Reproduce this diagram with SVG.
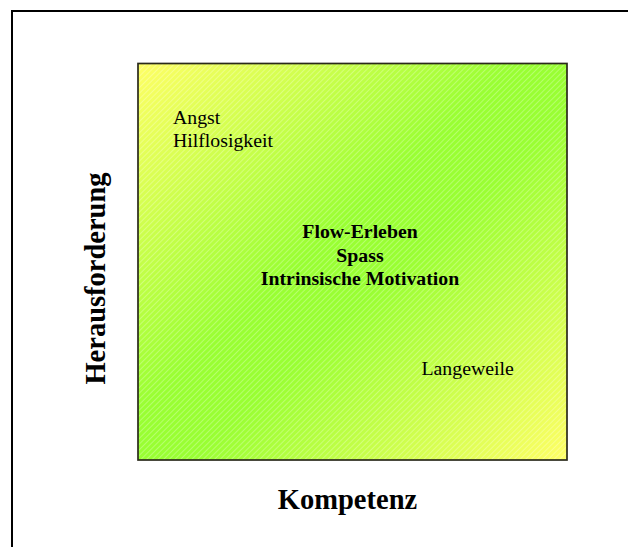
<svg xmlns="http://www.w3.org/2000/svg" width="628" height="547" viewBox="0 0 628 547">
  <style>
    .lbl { font-family: "Liberation Serif", "Times New Roman", serif; fill: #000; }
    .reg { font-size: 19.8px; }
    .bold { font-size: 19.8px; font-weight: bold; }
    .axis { font-size: 28.5px; font-weight: bold; }
  </style>
  <defs>
    <linearGradient id="fieldGrad" x1="0" y1="0" x2="1" y2="1">
      <stop offset="0" stop-color="#ffff66"/>
      <stop offset="0.44" stop-color="#99ff33"/>
      <stop offset="0.56" stop-color="#99ff33"/>
      <stop offset="1" stop-color="#ffff66"/>
    </linearGradient>
    <pattern id="hatch" width="4" height="4" patternUnits="userSpaceOnUse" patternTransform="rotate(-45)">
      <rect x="0" y="0" width="4" height="1" fill="#ffffff" fill-opacity="0.28"/>
    </pattern>
  </defs>

  <rect width="628" height="547" fill="#ffffff"/>

  <!-- outer frame (continues past the right and bottom edges) -->
  <rect x="12" y="11" width="700" height="700" fill="none" stroke="#000" stroke-width="2"/>

  <!-- field -->
  <g id="field">
    <rect x="138" y="63.5" width="429" height="396.5" fill="url(#fieldGrad)"/>
    <rect x="138" y="63.5" width="429" height="396.5" fill="url(#hatch)"/>
    <rect x="138" y="63.5" width="429" height="396.5" fill="none" stroke="#2a2a1a" stroke-width="1.7"/>
  </g>

  <g id="angst">
    <text class="lbl reg" x="173" y="124">Angst</text>
    <text class="lbl reg" x="173" y="147">Hilflosigkeit</text>
  </g>

  <g id="flow">
    <text class="lbl bold" x="360" y="238" text-anchor="middle">Flow-Erleben</text>
    <text class="lbl bold" x="360" y="261.5" text-anchor="middle">Spass</text>
    <text class="lbl bold" x="360" y="285" text-anchor="middle">Intrinsische Motivation</text>
  </g>

  <g id="langeweile">
    <text class="lbl reg" x="421.5" y="375">Langeweile</text>
  </g>

  <g id="axis-y">
    <text class="lbl axis" x="0" y="0" text-anchor="middle" transform="translate(105 278.5) rotate(-90)">Herausforderung</text>
  </g>

  <g id="axis-x">
    <text class="lbl axis" x="347.5" y="509" text-anchor="middle">Kompetenz</text>
  </g>

  <g id="connectors"/>
</svg>
